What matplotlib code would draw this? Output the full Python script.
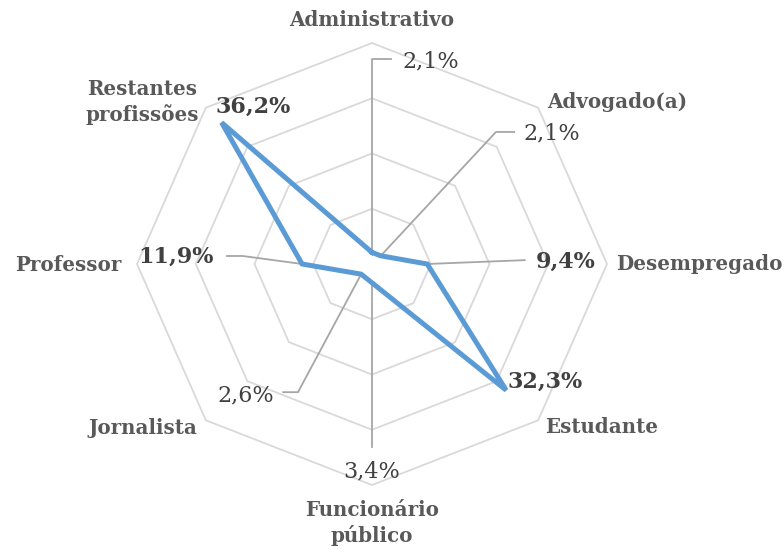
import numpy as np
import matplotlib
matplotlib.use("Agg")
import matplotlib.pyplot as plt

categories = ["Administrativo", "Advogado(a)", "Desempregado", "Estudante",
              "Funcionário\npúblico", "Jornalista", "Professor", "Restantes\nprofissões"]
values = [2.1, 2.1, 9.4, 32.3, 3.4, 2.6, 11.9, 36.2]
value_labels = ["2,1%", "2,1%", "9,4%", "32,3%", "3,4%", "2,6%", "11,9%", "36,2%"]
bold_labels = [False, False, True, True, False, False, True, True]
rings = [10, 20, 30, 40]

# layout (data units, same scale as the values)
cat_pos = [(0, 44.2, "center"), (29.8, 29.3, "left"), (41.6, 0.0, "left"),
           (29.4, -29.5, "left"), (0, -46.9, "center"), (-29.8, -29.7, "right"),
           (-42.6, -0.2, "right"), (-39.1, 29.4, "center")]
val_pos = [(5.1, 36.6, "left"), (25.7, 23.7, "left"), (27.9, 0.4, "left"),
           (23.0, -21.4, "left"), (0, -37.6, "center"), (-16.7, -23.7, "right"),
           (-26.9, 1.3, "right"), (-26.7, 28.4, "left")]
# leader line bends (None = no leader)
leaders = [[(0, 37.1), (3.2, 37.1)],
           [(21.1, 23.9), (24.2, 23.9)],
           [(26.0, 0.7)],
           None,
           [(0, -33.1)],
           [(-12.6, -23.2), (-15.1, -23.2)],
           [(-22.0, 1.45), (-24.7, 1.45)],
           None]

n = len(categories)
theta = np.arange(n) * 2 * np.pi / n

def xy(r, t):
    return r * np.sin(t), r * np.cos(t)

fig = plt.figure(figsize=(7.84, 5.49), dpi=100)
ax = fig.add_axes([0, 0, 1, 1])
ax.set_xlim(-372 / 235 * 40, (784 - 372) / 235 * 40)
ax.set_ylim(-285 / 221 * 40, 264 / 221 * 40)
ax.axis("off")

tt = np.append(theta, theta[0])
for r in rings:
    gx, gy = xy(r, tt)
    ax.plot(gx, gy, color="#d9d9d9", linewidth=1.3, zorder=1)

px, py = xy(np.array(values), theta)
for i in range(n):
    if leaders[i] is None:
        continue
    lx = [px[i]] + [p[0] for p in leaders[i]]
    ly = [py[i]] + [p[1] for p in leaders[i]]
    ax.plot(lx, ly, color="#a6a6a6", linewidth=1.3, zorder=2)

ax.plot(np.append(px, px[0]), np.append(py, py[0]), color="#5b9bd5",
        linewidth=3.6, solid_joinstyle="miter", zorder=3)

serif = ["DejaVu Serif"]
for i in range(n):
    x, y, ha = val_pos[i]
    ax.text(x, y, value_labels[i], ha=ha, va="center", fontsize=16,
            family=serif, color="#404040",
            fontweight="bold" if bold_labels[i] else "normal", zorder=4)
    x, y, ha = cat_pos[i]
    ax.text(x, y, categories[i], ha=ha, va="center", fontsize=14.3,
            family=serif, color="#595959", fontweight="bold",
            linespacing=1.3, multialignment="center", zorder=4)

fig.savefig("out.png", dpi=100)
